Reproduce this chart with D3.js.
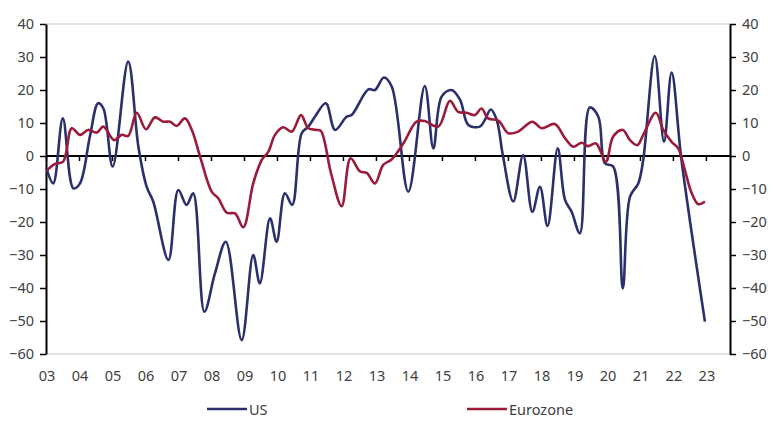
<!DOCTYPE html>
<html>
<head>
<meta charset="utf-8">
<script src="https://cdn.jsdelivr.net/npm/d3@7"></script>
<style>
  body { margin: 0; background: #fff; }
  text { font-family: 'Noto Sans', sans-serif; fill: #404040; }
</style>
</head>
<body>
<svg id="chart"></svg>
<script>
// decimal year, value
const usPoints = [
  [2003.02, -4], [2003.22, -8.3], [2003.51, 11.4], [2003.83, -9.8], [2004.03, -8.3],
  [2004.33, 5.9], [2004.58, 16], [2004.74, 14.4], [2005.02, -3.2], [2005.49, 28.6],
  [2005.80, 2.8], [2006.05, -9.3], [2006.25, -13.8], [2006.71, -31.5], [2007.01, -10.3],
  [2007.26, -14.8], [2007.46, -11.3], [2007.80, -47.2], [2008.12, -35.6], [2008.45, -26],
  [2008.93, -55.8], [2009.28, -30], [2009.48, -38.6], [2009.79, -18.9], [2009.99, -26],
  [2010.24, -11.3], [2010.46, -14.8], [2010.75, 6.9], [2010.95, 8.9], [2011.15, 11.9],
  [2011.48, 16], [2011.76, 7.9], [2012.11, 11.9], [2012.26, 12.4], [2012.77, 20.2],
  [2012.97, 20], [2013.24, 23.8], [2013.48, 21], [2013.98, -10.8], [2014.48, 21.2],
  [2014.74, 2.3], [2014.99, 18], [2015.29, 20], [2015.55, 17], [2015.80, 9.4],
  [2016.15, 8.9], [2016.30, 10.9], [2016.48, 14.1], [2016.66, 10.9], [2016.85, 0],
  [2017.16, -13.8], [2017.46, 0.3], [2017.74, -16.9], [2017.97, -9.3], [2018.20, -21.2],
  [2018.51, 2.3], [2018.73, -13.3], [2018.93, -16.9], [2019.18, -23.4], [2019.48, 14.7],
  [2019.74, 11.9], [2019.94, -2.2], [2020.19, -3.2], [2020.48, -40.1], [2020.70, -12.3],
  [2020.95, -8.3], [2021.10, -1.2], [2021.45, 30.3], [2021.73, 4.3], [2021.96, 25.3],
  [2022.26, -1.2], [2022.97, -50.2]
];

const euroPoints = [
  [2003.02, -4.5], [2003.27, -2.4], [2003.52, -1.7], [2003.78, 8.4], [2004.03, 6.4],
  [2004.28, 7.9], [2004.54, 7.1], [2004.74, 8.9], [2005.06, 4.8], [2005.29, 6.4],
  [2005.49, 6.1], [2005.75, 13.1], [2006.03, 8.1], [2006.30, 11.7], [2006.55, 10.4],
  [2006.76, 10.4], [2006.96, 9.1], [2007.21, 11.4], [2007.42, 7.9], [2007.67, -0.2],
  [2008.02, -10.8], [2008.22, -12.8], [2008.48, -17.2], [2008.73, -17.4], [2008.98, -21.6],
  [2009.28, -8.3], [2009.54, -1.2], [2009.74, 1.3], [2009.94, 6.4], [2010.19, 8.7],
  [2010.45, 7.4], [2010.73, 12.4], [2010.95, 8.4], [2011.20, 7.9], [2011.33, 7.6],
  [2011.64, -5.3], [2011.96, -15.2], [2012.23, -0.7], [2012.52, -4.7], [2012.72, -5.1],
  [2012.97, -8.3], [2013.22, -2.7], [2013.48, -1], [2013.83, 3.8], [2014.23, 10.4],
  [2014.48, 10.6], [2014.89, 8.9], [2015.24, 16.7], [2015.49, 13.4], [2015.75, 13.1],
  [2016.00, 12.4], [2016.20, 14.4], [2016.40, 11.4], [2016.71, 10.7], [2017.01, 6.9],
  [2017.31, 7.4], [2017.74, 10.4], [2018.02, 8.4], [2018.42, 9.7], [2018.73, 5.4],
  [2018.98, 2.8], [2019.23, 4], [2019.43, 3], [2019.67, 3.8], [2019.97, -1.7],
  [2020.19, 5.9], [2020.48, 7.9], [2020.70, 4.8], [2020.92, 3.3], [2021.10, 6.4],
  [2021.48, 13.1], [2021.71, 7.9], [2021.96, 4.3], [2022.16, 2.3], [2022.36, -4.2],
  [2022.57, -11.3], [2022.77, -14.6], [2022.97, -13.8]
];

const yearTicks = d3.range(2003, 2024);
const valueTicks = d3.range(-60, 41, 10);
const seriesNames = ['US', 'Eurozone'];
const seriesColors = ['#2b2f6b', '#9b1b3a'];

const WIDTH = 776, HEIGHT = 425;
const MARGIN = { LEFT: 46, RIGHT: 46, TOP: 24, BOTTOM: 71 };

const svg = d3.select('#chart').attr('width', WIDTH).attr('height', HEIGHT);

const x = d3.scaleLinear([2003, 2023.73], [MARGIN.LEFT, WIDTH - MARGIN.RIGHT]);
const y = d3.scaleLinear([-60, 40], [HEIGHT - MARGIN.BOTTOM, MARGIN.TOP]);

// light frame lines top and bottom
svg.selectAll('line.frame')
  .data([40, -60])
  .join('line')
  .attr('x1', x.range()[0]).attr('x2', x.range()[1])
  .attr('y1', (d) => y(d)).attr('y2', (d) => y(d))
  .attr('stroke', '#d9d9d9').attr('stroke-width', 1.5);

const styleAxis = (g) => {
  g.select('.domain').attr('stroke', '#000').attr('stroke-width', 2);
  g.selectAll('.tick line').attr('stroke', '#000').attr('stroke-width', 1.5);
  g.selectAll('.tick text').attr('fill', '#404040').style('font-size', '14.5px').style('font-family', "'Noto Sans', sans-serif");
};

svg.append('g')
  .attr('transform', `translate(${x.range()[0]},0)`)
  .call(d3.axisLeft(y).tickValues(valueTicks).tickSize(6).tickPadding(6).tickSizeOuter(0))
  .call(styleAxis);

svg.append('g')
  .attr('transform', `translate(${x.range()[1]},0)`)
  .call(d3.axisRight(y).tickValues(valueTicks).tickSize(6).tickPadding(6).tickSizeOuter(0))
  .call(styleAxis);

// zero line with year ticks
const zeroAxis = svg.append('g')
  .attr('transform', `translate(0,${y(0)})`)
  .call(d3.axisBottom(x).tickValues(yearTicks).tickSize(5).tickSizeOuter(0).tickFormat(''))
  .call(styleAxis);
zeroAxis.select('.domain').attr('d', `M${x.range()[0]},0H${x.range()[1]}`);

// year labels below plot
svg.append('g')
  .selectAll('text')
  .data(yearTicks)
  .join('text')
  .attr('x', (d) => x(d) + 1)
  .attr('y', y(-60) + 27)
  .attr('text-anchor', 'middle')
  .style('font-size', '14.5px')
  .text((d) => d3.format('02d')(d % 100));

const line = d3.line()
  .x((d) => x(d[0]))
  .y((d) => y(d[1]))
  .curve(d3.curveCatmullRom.alpha(0.5));

svg.selectAll('path.series')
  .data([usPoints, euroPoints])
  .join('path')
  .attr('class', 'series')
  .attr('d', line)
  .attr('fill', 'none')
  .attr('stroke', (d, i) => seriesColors[i])
  .attr('stroke-width', 2.6)
  .attr('stroke-linejoin', 'round');

// legend
const legendX = [207, 467];
const legend = svg.append('g')
  .selectAll('g')
  .data(seriesNames)
  .join('g')
  .attr('transform', (d, i) => `translate(${legendX[i]},409)`);
legend.append('line')
  .attr('x1', 0).attr('x2', 40)
  .attr('stroke', (d, i) => seriesColors[i])
  .attr('stroke-width', 2.6);
legend.append('text')
  .attr('x', 42).attr('y', 5.5)
  .style('font-size', '14.5px')
  .text((d) => d);
</script>
</body>
</html>
